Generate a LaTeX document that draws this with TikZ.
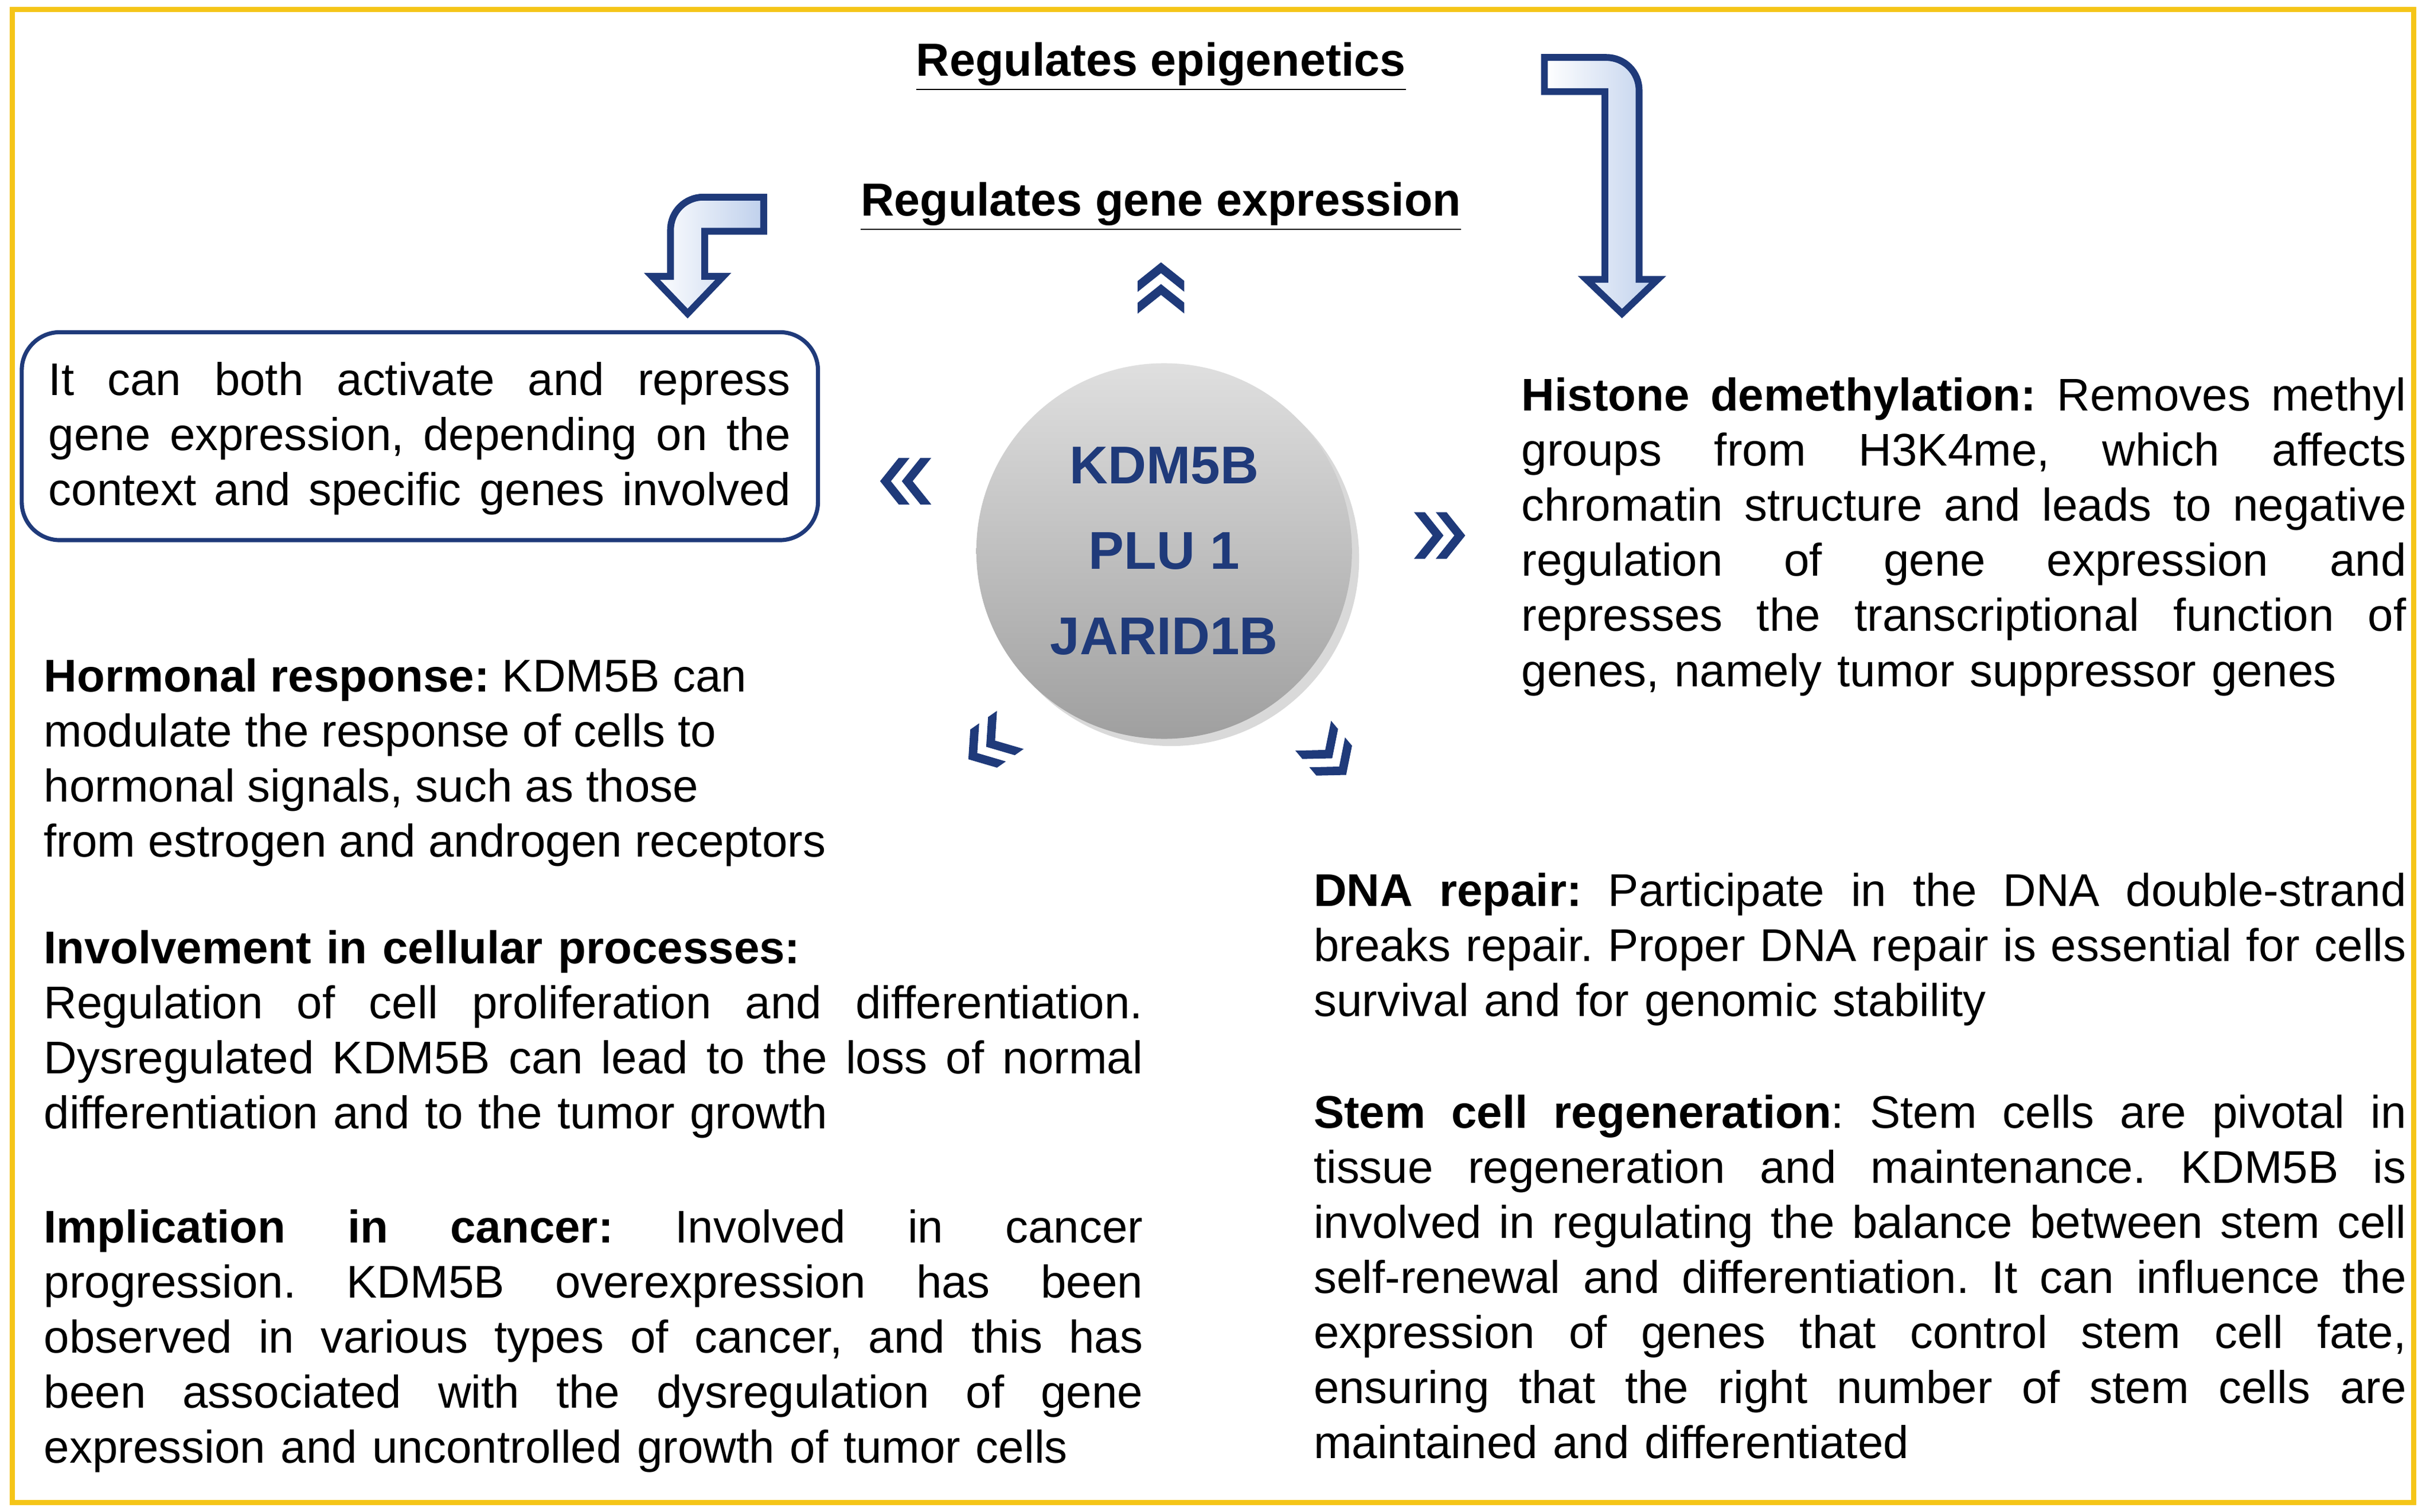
\documentclass[tikz,border=0pt]{standalone}
\usepackage{fontspec}
\setmainfont{Liberation Sans}
\usetikzlibrary{shadows}
\definecolor{navy}{HTML}{1F3A7A}
\definecolor{gold}{HTML}{F5C518}
\definecolor{lblue}{HTML}{BFD0EC}
\frenchspacing
\newcommand\jl[1]{{\spaceskip=0pt\xspaceskip=0pt\makebox[\hsize][s]{#1}}\\}
\begin{document}
\begin{tikzpicture}[x=0.02cm,y=-0.02cm,
 txt/.style={anchor=north west,inner sep=0pt,align=left,font=\fontsize{16.8}{20.2}\selectfont\frenchspacing},
 ttl/.style={font=\fontsize{17}{20}\selectfont\bfseries,inner sep=0pt},
 ctr/.style={font=\fontsize{19.5}{20}\selectfont\bfseries,text=navy,inner sep=0pt},
 bent/.style={draw=navy,line width=2.5pt,left color=white,right color=lblue,line join=miter},
 pics/chev/.style={code={
  \fill[navy] (-17,-15)--(-10,-15)--(2,0)--(-10,15)--(-17,15)--(-5,0)--cycle;
  \fill[navy] (-3,-15)--(4,-15)--(16,0)--(4,15)--(-3,15)--(9,0)--cycle;}}]
\useasboundingbox (0,0) rectangle (1563,974.1);
\draw[gold,line width=2pt] (8,6) rectangle (1555,968);
\node[ttl] (t1) at (748,43) {\underline{Regulates epigenetics}};
\node[ttl] (t2) at (748,133) {\underline{Regulates gene expression}};
\node[circle,minimum size=242*0.02cm,top color=gray!25,bottom color=gray!75,drop shadow={opacity=0.3}] (c) at (750,355) {};
\node[ctr] (k1) at (750,300) {KDM5B};
\node[ctr] (k2) at (750,355) {PLU 1};
\node[ctr] (k3) at (750,410) {JARID1B};
\pic[rotate=90] at (748,185) {chev};
\pic[rotate=180] at (583,310) {chev};
\pic at (928,345) {chev};
\pic[rotate=-145] at (637,480) {chev};
\pic[rotate=-50] at (857,487) {chev};
\draw[bent] (492,127) [rounded corners=12pt]-- (432,127) [sharp corners]-- (432,178)--(420,178)--(443,202)--(466,178)--(454,178)--(454,149)--(492,149)--cycle;
\draw[bent] (995,37) [rounded corners=12pt]-- (1056,37) [sharp corners]-- (1056,180)--(1068,180)--(1045,202)--(1022,180)--(1034,180)--(1034,59)--(995,59)--cycle;
\node[draw=navy,line width=1.5pt,rounded corners=14pt,minimum width=513*0.02cm,minimum height=134*0.02cm] (box) at (270.5,281) {};
\node[txt,text width=478*0.02cm] (bt) at (31,233) {\jl{It can both activate and repress}\jl{gene expression, depending on the}{\spaceskip=0pt\makebox[\hsize][s]{context and specific genes involved}}};
\node[txt,text width=570*0.02cm] (h) at (980,243) {\jl{\textbf{Histone demethylation:} Removes methyl}\jl{groups from H3K4me, which affects}\jl{chromatin structure and leads to negative}\jl{regulation of gene expression and}\jl{represses the transcriptional function of}genes, namely tumor suppressor genes};
\node[txt] (hr) at (28,424) {\textbf{Hormonal response:} KDM5B can\\modulate the response of cells to\\hormonal signals, such as those\\from estrogen and androgen receptors};
\node[txt,text width=708*0.02cm] (inv) at (28,599) {\textbf{Involvement in cellular processes:}\\\jl{Regulation of cell proliferation and differentiation.}\jl{Dysregulated KDM5B can lead to the loss of normal}differentiation and to the tumor growth};
\node[txt,text width=708*0.02cm] (imp) at (28,779) {\jl{\textbf{Implication in cancer:} Involved in cancer}\jl{progression. KDM5B overexpression has been}\jl{observed in various types of cancer, and this has}\jl{been associated with the dysregulation of gene}expression and uncontrolled growth of tumor cells};
\node[txt,text width=704*0.02cm] (dna) at (846,562) {\jl{\textbf{DNA repair:} Participate in the DNA double-strand}\jl{breaks repair. Proper DNA repair is essential for cells}survival and for genomic stability};
\node[txt,text width=704*0.02cm] (stem) at (846,705) {\jl{\textbf{Stem cell regeneration}: Stem cells are pivotal in}\jl{tissue regeneration and maintenance. KDM5B is}\jl{involved in regulating the balance between stem cell}\jl{self-renewal and differentiation. It can influence the}\jl{expression of genes that control stem cell fate,}\jl{ensuring that the right number of stem cells are}maintained and differentiated};
\end{tikzpicture}
\end{document}
